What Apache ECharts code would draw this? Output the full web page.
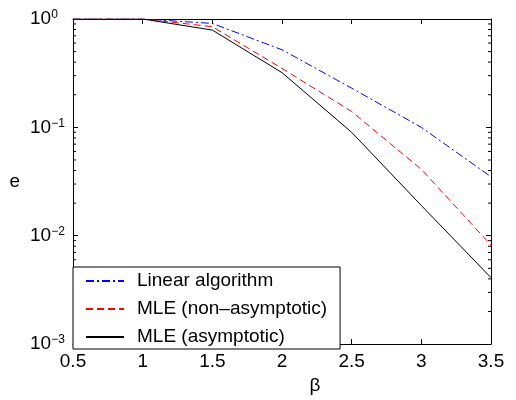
<!DOCTYPE html>
<html>
<head>
<meta charset="utf-8">
<script src="https://cdn.jsdelivr.net/npm/echarts@6/dist/echarts.min.js"></script>
<style>
  html, body { margin: 0; padding: 0; background: #fff; }
  #main { width: 516px; height: 400px; }
</style>
</head>
<body>
<div id="main"></div>
<script>
var beta = [0.5, 1, 1.5, 2, 2.5, 3, 3.5];
var linearAlg = [1, 1, 0.91, 0.52, 0.23, 0.1, 0.035];
var mleNonAsym = [1, 1, 0.85, 0.35, 0.14, 0.041, 0.0082];
var mleAsym = [1, 1, 0.79, 0.32, 0.09, 0.019, 0.0041];
var seriesNames = ['Linear algorithm', 'MLE (non\u2013asymptotic)', 'MLE (asymptotic)'];
// minor ticks of the log axis (2..9 in each decade)
var minorTicks = [];
[0.001, 0.01, 0.1].forEach(function (d) {
  for (var k = 2; k <= 9; k++) minorTicks.push(+(d * k).toPrecision(3));
});

var chartDom = document.getElementById('main');
var myChart = echarts.init(chartDom);
var font = 'Liberation Sans, Arial, Helvetica, sans-serif';

function pairs(ys) {
  return beta.map(function (x, i) { return [x, ys[i]]; });
}

function supLabel(v) {
  var e = Math.round(Math.log10(v));
  var s = e < 0 ? '\u2212' + (-e) : '' + e;
  return '{b|10}{s|' + s + '}';
}

var option = {
  animation: false,
  backgroundColor: '#fff',
  textStyle: { fontFamily: font },
  grid: { left: 73, right: 25, top: 19, bottom: 52 },
  legend: {
    data: seriesNames,
    orient: 'vertical',
    left: 73,
    top: 267,
    backgroundColor: '#fff',
    borderColor: '#000',
    borderWidth: 1,
    padding: [4, 13, 2, 12],
    itemWidth: 38,
    itemHeight: 10,
    itemGap: 8,
    itemStyle: { opacity: 0 },
    textStyle: {
      fontFamily: font,
      fontSize: 19,
      color: '#000',
      lineHeight: 20,
      padding: [0, 0, 0, 8]
    }
  },
  xAxis: [
    {
      type: 'value',
      min: 0.5,
      max: 3.5,
      interval: 0.5,
      name: '\u03b2',
      nameLocation: 'middle',
      nameGap: 28,
      nameTextStyle: { fontFamily: font, fontSize: 19, color: '#000', padding: [0, 0, 0, 66] },
      axisLine: { lineStyle: { color: '#000', width: 1 } },
      axisTick: { inside: true, length: 5, lineStyle: { color: '#000' } },
      axisLabel: { fontFamily: font, fontSize: 19, color: '#000', margin: 8 },
      splitLine: { show: false }
    },
    {
      type: 'value',
      position: 'top',
      min: 0.5,
      max: 3.5,
      interval: 0.5,
      axisLine: { show: true, lineStyle: { color: '#000', width: 1 } },
      axisTick: { show: true, inside: true, length: 5, lineStyle: { color: '#000' } },
      axisLabel: { show: false },
      splitLine: { show: false }
    }
  ],
  yAxis: [
    {
      type: 'log',
      logBase: 10,
      min: 0.001,
      max: 1,
      name: 'e',
      nameLocation: 'middle',
      nameRotate: 0,
      nameGap: 53,
      nameTextStyle: { fontFamily: font, fontSize: 19, color: '#000', padding: [0, 0, 12, 0] },
      axisLine: { show: true, lineStyle: { color: '#000', width: 1 } },
      axisTick: { show: true, inside: true, length: 5, lineStyle: { color: '#000' } },
      axisLabel: {
        align: 'left',
        margin: 43,
        formatter: supLabel,
        rich: {
          b: { fontFamily: font, fontSize: 19, color: '#000', lineHeight: 20 },
          s: { fontFamily: font, fontSize: 12, color: '#000', verticalAlign: 'top', lineHeight: 12, padding: [0, 0, 6, 0] }
        }
      },
      splitLine: { show: false }
    },
    {
      type: 'log',
      logBase: 10,
      min: 0.001,
      max: 1,
      position: 'right',
      axisLine: { show: true, lineStyle: { color: '#000', width: 1 } },
      axisTick: { show: true, inside: true, length: 5, lineStyle: { color: '#000' } },
      axisLabel: { show: false },
      splitLine: { show: false }
    }
  ],
  series: [
    {
      name: seriesNames[0],
      type: 'line',
      data: pairs(linearAlg),
      symbol: 'none',
      lineStyle: { color: '#0000ff', width: 1, type: [8, 3, 2, 3] },
      itemStyle: { color: '#0000ff' }
    },
    {
      name: seriesNames[1],
      type: 'line',
      data: pairs(mleNonAsym),
      symbol: 'none',
      lineStyle: { color: '#ff0000', width: 1, type: [7, 4] },
      itemStyle: { color: '#ff0000' }
    },
    {
      name: seriesNames[2],
      type: 'line',
      data: pairs(mleAsym),
      symbol: 'none',
      lineStyle: { color: '#000000', width: 1, type: 'solid' },
      itemStyle: { color: '#000000' }
    },
    {
      name: 'minor',
      type: 'custom',
      silent: true,
      z: 1,
      data: minorTicks.map(function (v) { return [beta[0], v]; }),
      renderItem: function (params, api) {
        var v = api.value(1);
        var pl = api.coord([beta[0], v]);
        var pr = api.coord([beta[beta.length - 1], v]);
        var st = { stroke: '#000', lineWidth: 1 };
        return {
          type: 'group',
          children: [
            { type: 'line', shape: { x1: pl[0], y1: pl[1], x2: pl[0] + 3, y2: pl[1] }, style: st },
            { type: 'line', shape: { x1: pr[0], y1: pr[1], x2: pr[0] - 3, y2: pr[1] }, style: st }
          ]
        };
      }
    }
  ]
};

option && myChart.setOption(option);
</script>
</body>
</html>
